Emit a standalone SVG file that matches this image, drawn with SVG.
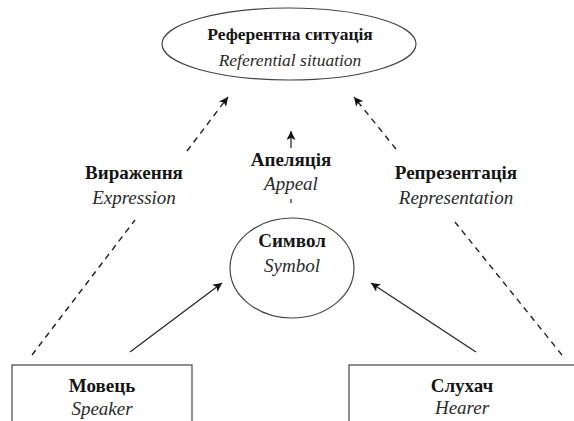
<svg xmlns="http://www.w3.org/2000/svg" width="574" height="421" viewBox="0 0 574 421">
<style>
text{font-family:"Liberation Serif","Times New Roman",Times,"DejaVu Serif",serif;font-size:19px;text-anchor:middle}
.t{font-size:17.5px}
.b{font-weight:bold;fill:#151515}
.i{font-style:italic;fill:#2a2a2a}
.shape{fill:#fff;stroke:#444;stroke-width:1.2}
.solid{stroke:#222;stroke-width:1.2;fill:none}
.dash{stroke:#222;stroke-width:1.4;fill:none;stroke-dasharray:6 5}
</style>
<defs>
<marker id="ah" viewBox="0 0 10 10" refX="10" refY="5" markerWidth="9" markerHeight="9" markerUnits="userSpaceOnUse" orient="auto">
<path d="M0,0 L10,5 L0,10 L2.5,5 z" fill="#111"/>
</marker>
</defs>
<rect width="574" height="421" fill="#fff"/>
<g id="connectors">
<line class="dash" x1="32" y1="355" x2="135" y2="220"/>
<line class="dash" x1="187" y1="151" x2="228" y2="97" marker-end="url(#ah)"/>
<line class="dash" x1="562" y1="355" x2="455" y2="222"/>
<line class="dash" x1="396" y1="149" x2="354" y2="97" marker-end="url(#ah)"/>
<line class="solid" x1="130" y1="352" x2="222" y2="283" marker-end="url(#ah)"/>
<line class="solid" x1="476" y1="352" x2="371" y2="283" marker-end="url(#ah)"/>
<line class="solid" x1="291" y1="148" x2="291" y2="131" marker-end="url(#ah)"/>
<line class="solid" x1="291" y1="199" x2="291" y2="203"/>
</g>
<g id="referent">
<ellipse class="shape" cx="289" cy="44" rx="127" ry="36"/>
<text class="b t" x="290" y="40">Референтна ситуація</text>
<text class="i t" x="290" y="66">Referential situation</text>
</g>
<g id="symbol">
<ellipse class="shape" cx="292" cy="268" rx="62" ry="50"/>
<text class="b" x="292" y="247">Символ</text>
<text class="i" x="292" y="272">Symbol</text>
</g>
<g id="speaker">
<rect class="shape" x="12" y="365" width="180" height="70"/>
<text class="b" x="102" y="392">Мовець</text>
<text class="i" x="102" y="415">Speaker</text>
</g>
<g id="hearer">
<rect class="shape" x="349" y="365" width="240" height="70"/>
<text class="b" x="462" y="392">Слухач</text>
<text class="i" x="462" y="414">Hearer</text>
</g>
<g id="labels">
<text class="b" x="134" y="179">Вираження</text>
<text class="i" x="134" y="204">Expression</text>
<text class="b" x="291" y="166">Апеляція</text>
<text class="i" x="291" y="190">Appeal</text>
<text class="b" x="456" y="179">Репрезентація</text>
<text class="i" x="456" y="204">Representation</text>
</g>
</svg>
